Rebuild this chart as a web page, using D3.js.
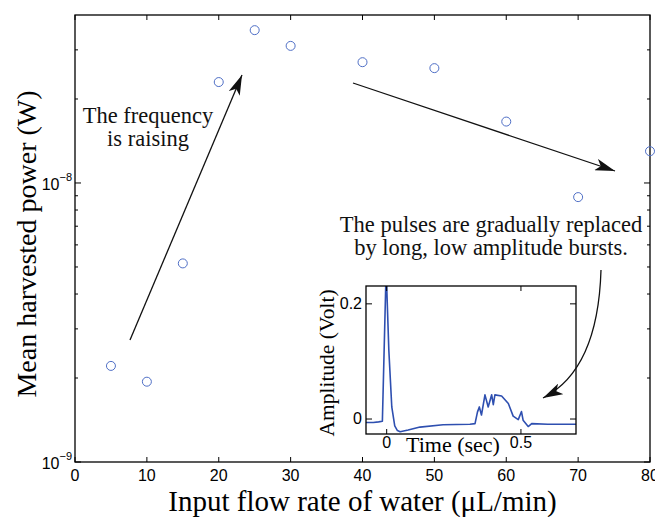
<!DOCTYPE html>
<html>
<head>
<meta charset="utf-8">
<script src="https://cdn.jsdelivr.net/npm/d3@7"></script>
<style>
	body { margin: 0; background: #fff; }
	svg { display: block; }
</style>
</head>
<body>
<div id="chart-area"></div>
<script>
// Main series: flow rate (uL/min) vs mean harvested power (W)
let flowRate = [5, 10, 15, 20, 25, 30, 40, 50, 60, 70, 80];
let power = [2.21e-9, 1.94e-9, 5.15e-9, 2.30e-8, 3.53e-8, 3.10e-8, 2.71e-8, 2.58e-8, 1.66e-8, 8.9e-9, 1.30e-8];

// Inset trace: time (sec) vs amplitude (Volt)
let traceTime = [-0.077, -0.05, -0.03, -0.016, -0.002, 0.008, 0.019, 0.03, 0.04, 0.05, 0.08, 0.124, 0.21, 0.31,
	0.329, 0.338, 0.345, 0.353, 0.366, 0.378, 0.391, 0.397, 0.403, 0.428, 0.453, 0.471, 0.49, 0.502, 0.508,
	0.527, 0.54, 0.6, 0.705];
let traceAmp = [-0.006, -0.006, -0.005, -0.004, 0.26, 0.12, 0.021, -0.012, -0.02, -0.022, -0.019, -0.014, -0.010, -0.009,
	-0.008, 0.012, 0.021, 0.007, 0.042, 0.021, 0.042, 0.025, 0.042, 0.040, 0.027, 0.005, -0.001, 0.013, -0.002,
	-0.013, -0.008, -0.009, -0.009];

// Tick values
let xTicks = [0, 10, 20, 30, 40, 50, 60, 70, 80];
let yMajor = [1e-9, 1e-8];
let yMinor = [2e-9, 3e-9, 4e-9, 5e-9, 6e-9, 7e-9, 8e-9, 9e-9, 2e-8, 3e-8];
let insetXTicks = [0, 0.5];
let insetYTicks = [0, 0.2];

let W = 655, H = 517;
let svg = d3.select("#chart-area")
	.append("svg")
	.attr("width", W)
	.attr("height", H);

let sans = "'Liberation Sans', Arial, sans-serif";
let serif = "'Liberation Serif', 'Times New Roman', serif";

// Main plot area
let pL = 75, pR = 650, pT = 15, pB = 462;

let x = d3.scaleLinear().domain([0, 80]).range([pL, pR]);
let y = d3.scaleLog().domain([1e-9, 4e-8]).range([pB, pT]);

// Ticks (inward, on all four sides)
let ticks = svg.append("g").attr("stroke", "#000").attr("stroke-width", 1);
xTicks.forEach(v => {
	ticks.append("line").attr("x1", x(v)).attr("x2", x(v)).attr("y1", pB).attr("y2", pB - 5);
	ticks.append("line").attr("x1", x(v)).attr("x2", x(v)).attr("y1", pT).attr("y2", pT + 5);
});
yMajor.forEach(v => {
	ticks.append("line").attr("x1", pL).attr("x2", pL + 6).attr("y1", y(v)).attr("y2", y(v));
	ticks.append("line").attr("x1", pR).attr("x2", pR - 6).attr("y1", y(v)).attr("y2", y(v));
});
yMinor.forEach(v => {
	ticks.append("line").attr("x1", pL).attr("x2", pL + 3).attr("y1", y(v)).attr("y2", y(v));
	ticks.append("line").attr("x1", pR).attr("x2", pR - 3).attr("y1", y(v)).attr("y2", y(v));
});

// Frame
svg.append("rect")
	.attr("x", pL).attr("y", pT)
	.attr("width", pR - pL).attr("height", pB - pT)
	.attr("fill", "none").attr("stroke", "#000").attr("stroke-width", 1.3);

// X tick labels
svg.selectAll(".xlab")
	.data(xTicks)
	.enter().append("text")
	.attr("x", d => x(d)).attr("y", pB + 19)
	.attr("text-anchor", "middle")
	.attr("font-family", sans).attr("font-size", 16)
	.text(d => d);

// Y tick labels with exponents
yMajor.forEach(v => {
	let t = svg.append("text")
		.attr("x", pL - 3).attr("y", y(v) + 7)
		.attr("text-anchor", "end")
		.attr("font-family", sans).attr("font-size", 16);
	t.append("tspan").text("10");
	t.append("tspan").attr("dy", -9).attr("font-size", 11).text("\u2212" + Math.round(-Math.log10(v)));
});

// Axis titles
svg.append("text")
	.attr("x", (pL + pR) / 2).attr("y", 511)
	.attr("text-anchor", "middle")
	.attr("font-family", serif).attr("font-size", 29)
	.text("Input flow rate of water (\u03bcL/min)");
svg.append("text")
	.attr("transform", "translate(36," + 244 + ") rotate(-90)")
	.attr("text-anchor", "middle")
	.attr("font-family", serif).attr("font-size", 28)
	.text("Mean harvested power (W)");

// Data points
svg.selectAll(".dot")
	.data(flowRate.map((d, i) => [d, power[i]]))
	.enter().append("circle")
	.attr("class", "dot")
	.attr("cx", d => x(d[0]))
	.attr("cy", d => y(d[1]))
	.attr("r", 4.5)
	.attr("fill", "none")
	.attr("stroke", "#4f6fc6")
	.attr("stroke-width", 1);

// Arrow head marker
let defs = svg.append("defs");
defs.append("marker")
	.attr("id", "head")
	.attr("viewBox", "0 0 20 12")
	.attr("refX", 20).attr("refY", 6)
	.attr("markerWidth", 20).attr("markerHeight", 12)
	.attr("markerUnits", "userSpaceOnUse")
	.attr("orient", "auto")
	.append("path")
	.attr("d", "M0,0 L20,6 L0,12 L5,6 Z")
	.attr("fill", "#111");

// Annotations
let ann = svg.append("g").attr("font-family", serif).attr("font-size", 22.5).attr("fill", "#111")
	.attr("text-anchor", "middle");
ann.append("text").attr("x", 148).attr("y", 123).text("The frequency");
ann.append("text").attr("x", 148).attr("y", 146).text("is raising");
ann.append("text").attr("x", 491).attr("y", 232).text("The pulses are gradually replaced");
ann.append("text").attr("x", 491).attr("y", 255).text("by long, low amplitude bursts.");

svg.append("line")
	.attr("x1", 130).attr("y1", 340).attr("x2", 242).attr("y2", 75)
	.attr("stroke", "#111").attr("stroke-width", 1.3)
	.attr("marker-end", "url(#head)");
svg.append("line")
	.attr("x1", 353).attr("y1", 83).attr("x2", 615).attr("y2", 171)
	.attr("stroke", "#111").attr("stroke-width", 1.3)
	.attr("marker-end", "url(#head)");

// Inset
let iL = 366, iR = 576, iT = 286, iB = 434;
let ix = d3.scaleLinear().domain([-0.077, 0.705]).range([iL, iR]);
let iy = d3.scaleLinear().domain([-0.026, 0.231]).range([iB, iT]);

svg.append("rect")
	.attr("x", iL).attr("y", iT)
	.attr("width", iR - iL).attr("height", iB - iT)
	.attr("fill", "#fff");

defs.append("clipPath").attr("id", "insetClip")
	.append("rect")
	.attr("x", iL).attr("y", iT)
	.attr("width", iR - iL).attr("height", iB - iT);

let trace = d3.line()
	.x((d, i) => ix(traceTime[i]))
	.y((d, i) => iy(traceAmp[i]));
svg.append("path")
	.datum(traceAmp)
	.attr("clip-path", "url(#insetClip)")
	.attr("d", trace)
	.attr("fill", "none")
	.attr("stroke", "#2e4fb0")
	.attr("stroke-width", 1.6)
	.attr("stroke-linejoin", "round");

let iticks = svg.append("g").attr("stroke", "#000").attr("stroke-width", 1);
insetXTicks.forEach(v => {
	iticks.append("line").attr("x1", ix(v)).attr("x2", ix(v)).attr("y1", iB).attr("y2", iB - 5);
	iticks.append("line").attr("x1", ix(v)).attr("x2", ix(v)).attr("y1", iT).attr("y2", iT + 5);
});
insetYTicks.forEach(v => {
	iticks.append("line").attr("x1", iL).attr("x2", iL + 6).attr("y1", iy(v)).attr("y2", iy(v));
	iticks.append("line").attr("x1", iR).attr("x2", iR - 6).attr("y1", iy(v)).attr("y2", iy(v));
});

svg.append("rect")
	.attr("x", iL).attr("y", iT)
	.attr("width", iR - iL).attr("height", iB - iT)
	.attr("fill", "none").attr("stroke", "#000").attr("stroke-width", 1.3);

svg.selectAll(".ixlab")
	.data(insetXTicks)
	.enter().append("text")
	.attr("x", d => ix(d)).attr("y", iB + 14)
	.attr("text-anchor", "middle")
	.attr("font-family", sans).attr("font-size", 16)
	.text(d => d);
svg.selectAll(".iylab")
	.data(insetYTicks)
	.enter().append("text")
	.attr("x", iL - 4).attr("y", d => iy(d) + 5)
	.attr("text-anchor", "end")
	.attr("font-family", sans).attr("font-size", 16)
	.text(d => d);

svg.append("text")
	.attr("x", 453).attr("y", 452)
	.attr("text-anchor", "middle")
	.attr("font-family", serif).attr("font-size", 22)
	.text("Time (sec)");
svg.append("text")
	.attr("transform", "translate(334," + 363 + ") rotate(-90)")
	.attr("text-anchor", "middle")
	.attr("font-family", serif).attr("font-size", 21.5)
	.text("Amplitude (Volt)");

// Curved arrow pointing at the bursts
let curve = d3.path();
curve.moveTo(601, 270);
curve.quadraticCurveTo(598, 370, 543, 398);
svg.append("path")
	.attr("d", curve.toString())
	.attr("fill", "none")
	.attr("stroke", "#111").attr("stroke-width", 1.3)
	.attr("marker-end", "url(#head)");
</script>
</body>
</html>
